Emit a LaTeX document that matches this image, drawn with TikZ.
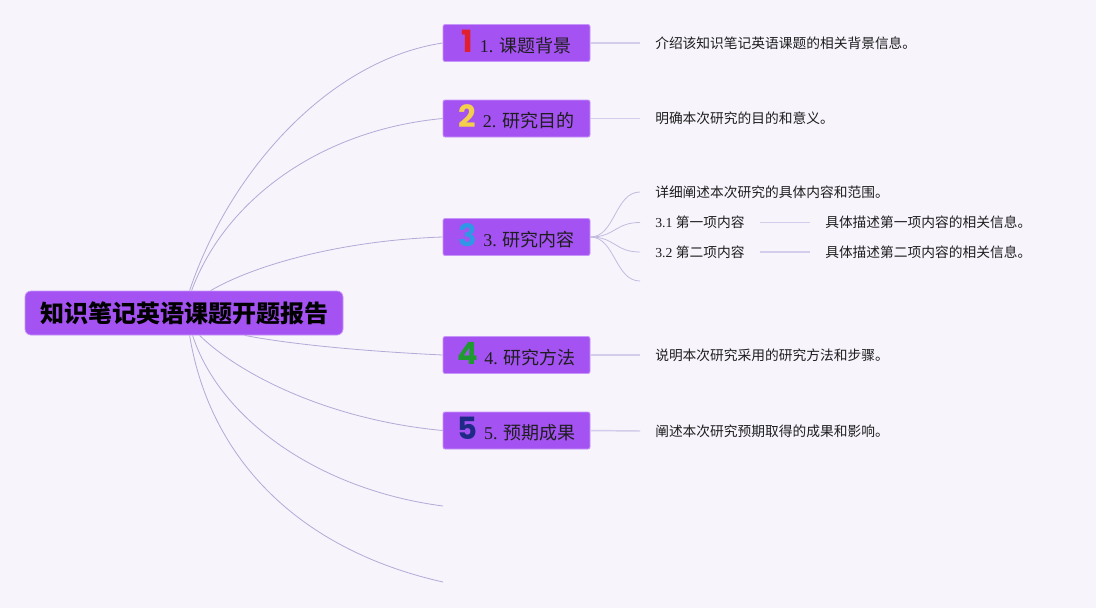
\documentclass[tikz,border=0pt]{standalone}
\usepackage{fontspec}
\setmainfont{Liberation Serif}
\newfontfamily\cjk{Noto Sans CJK SC}
\newfontfamily\digitf{Poppins}
\usetikzlibrary{calc}
\definecolor{bgc}{HTML}{F7F4FC}
\definecolor{nodefill}{HTML}{A452F2}
\definecolor{nodeedge}{HTML}{C796F8}
\definecolor{curvec}{HTML}{B4AAD6}
\definecolor{linec}{HTML}{D3CCEA}
\definecolor{txtc}{HTML}{1E1E1E}
\definecolor{dA}{HTML}{E0202E}
\definecolor{dB}{HTML}{F4CF4C}
\definecolor{dC}{HTML}{2F98E6}
\definecolor{dD}{HTML}{1E9A30}
\definecolor{dE}{HTML}{1F2A86}
\newcommand{\dg}[2]{\smash{\digitf\bfseries\fontsize{23pt}{23pt}\selectfont\color{#1}#2}\hspace{5pt}}
\begin{document}
\begin{tikzpicture}[x=0.75pt,y=-0.75pt,
  rootbox/.style={fill=nodefill,draw=nodeedge,line width=0.6pt,rounded corners=4.5pt,
    minimum width=238.5pt,minimum height=33pt,inner sep=0pt,text=black,
    font=\cjk\bfseries\fontsize{18pt}{20pt}\selectfont},
  branchbox/.style={fill=nodefill,draw=nodeedge,line width=0.6pt,rounded corners=1.5pt,
    minimum width=110.25pt,minimum height=27.75pt,inner sep=0pt,text=txtc,
    text height=13.5pt,text depth=0pt,
    font=\fontsize{13.5pt}{14pt}\selectfont},
  desc/.style={anchor=west,inner xsep=11.25pt,inner ysep=2pt,text=txtc,
    font=\fontsize{10.3pt}{12pt}\selectfont},
  curve/.style={draw=curvec,line width=0.6pt},
  conn/.style={draw=linec,line width=1.1pt},
  fan/.style={draw=curvec!80,line width=0.6pt}]
\fill[bgc] (0,0) rectangle (1096,608);
\useasboundingbox (0,0) rectangle (1096,608);

\node[rootbox] (root) at (184,313) {知识笔记英语课题开题报告};

\node[branchbox] (b1) at (516.5,43) {\dg{dA}{1}1. {\cjk 课题背景}};
\node[branchbox] (b2) at (516.5,118.5) {\dg{dB}{2}2. {\cjk 研究目的}};
\node[branchbox] (b3) at (516.5,237) {\dg{dC}{3}3. {\cjk 研究内容}};
\node[branchbox] (b4) at (516.5,355) {\dg{dD}{4}4. {\cjk 研究方法}};
\node[branchbox] (b5) at (516.5,430.5) {\dg{dE}{5}5. {\cjk 预期成果}};

\coordinate (e1) at (443,506);
\coordinate (e2) at (443,582);

% root curves
\draw[curve] ($(root.north west)+(165,0)$) .. controls (230,170) and (330,60) .. (b1.west);
\draw[curve] ($(root.north west)+(167,0)$) .. controls (225,200) and (320,130) .. (b2.west);
\draw[curve] ($(root.north west)+(186,0)$) .. controls (260,262) and (350,240) .. (b3.west);
\draw[curve] ($(root.south west)+(220,0)$) .. controls (300,346) and (380,352) .. (b4.west);
\draw[curve] ($(root.south west)+(175,0)$) .. controls (240,375) and (330,420) .. (b5.west);
\draw[curve] ($(root.south west)+(168,0)$) .. controls (220,420) and (320,490) .. (e1);
\draw[curve] ($(root.south west)+(165,0)$) .. controls (210,460) and (300,550) .. (e2);

% descriptions
\node[desc] (t1) at (640,43) {\cjk 介绍该知识笔记英语课题的相关背景信息。};
\node[desc] (t2) at (640,118.5) {\cjk 明确本次研究的目的和意义。};
\node[desc] (t4) at (640,355) {\cjk 说明本次研究采用的研究方法和步骤。};
\node[desc] (t5) at (640,431) {\cjk 阐述本次研究预期取得的成果和影响。};
\draw[conn] (b1.east) -- (t1.west);
\draw[conn] (b2.east) -- (t2.west);
\draw[conn] (b4.east) -- (t4.west);
\draw[conn] (b5.east) -- (t5.west);

\node[desc] (c0) at (640,192) {\cjk 详细阐述本次研究的具体内容和范围。};
\node[desc] (c1) at (640,222.5) {3.1 {\cjk 第一项内容}};
\node[desc] (c2) at (640,252) {3.2 {\cjk 第二项内容}};
\coordinate (c3) at (640,281);
\node[desc] (c1d) at (810,222.5) {\cjk 具体描述第一项内容的相关信息。};
\node[desc] (c2d) at (810,252) {\cjk 具体描述第二项内容的相关信息。};
\draw[conn] (c1.east) -- (c1d.west);
\draw[conn] (c2.east) -- (c2d.west);

\draw[fan] (b3.east) .. controls (615,237) and (615,192) .. (c0.west);
\draw[fan] (b3.east) .. controls (615,237) and (615,222.5) .. (c1.west);
\draw[fan] (b3.east) .. controls (615,237) and (615,252) .. (c2.west);
\draw[fan] (b3.east) .. controls (615,237) and (615,281) .. (c3);
\end{tikzpicture}
\end{document}
